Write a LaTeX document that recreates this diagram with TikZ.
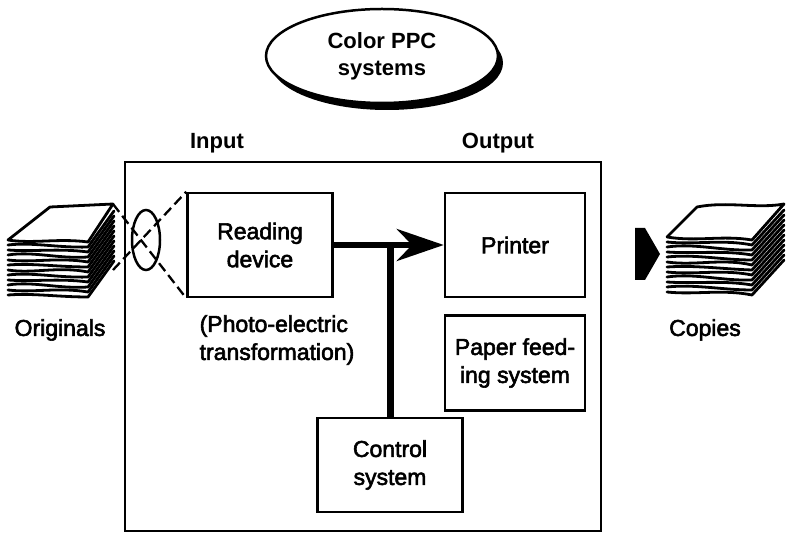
\documentclass[tikz,border=0pt]{standalone}
\usepackage{fontspec}
\setmainfont{Liberation Sans}
\newfontfamily\labelfont{Liberation Sans}[FakeBold=2.5]
\usetikzlibrary{arrows.meta, positioning, shapes.geometric, shadows}

\begin{document}
\begin{tikzpicture}[
		x=1pt, y=-1pt,
		box/.style={
			draw,
			line width=2.5pt,
			minimum width=145pt,
			minimum height=104pt,
			align=center,
			font=\labelfont\fontsize{23}{28}\selectfont
		},
		label/.style={align=center, font=\labelfont\fontsize{23}{28}\selectfont},
		heading/.style={font=\fontsize{22}{26}\selectfont\bfseries},
		sheet/.style={line width=2.8pt, line join=round, line cap=round},
		beam/.style={line width=2.3pt, dash pattern=on 10pt off 5pt},
		arrow/.style={line width=6pt, -{Stealth[length=47pt, width=32pt]}}
		]
		\useasboundingbox (0,0) rectangle (790,534);
		
		% title
		\node[ellipse, draw, line width=2.5pt, fill=white,
			minimum width=232pt, minimum height=94pt,
			drop shadow={shadow xshift=5pt, shadow yshift=-7pt, fill=black, opacity=1},
			align=center, font=\fontsize{22}{27}\selectfont\bfseries] (title) at (382,56) {Color PPC\\systems};
		
		\node[heading] (input) at (217,143) {Input};
		\node[heading] (output) at (498,143) {Output};
		
		% machine frame
		\draw[line width=2.5pt] (125,162) rectangle (601,531);
		
		\node[box] (reading) at (260,245) {Reading\\device};
		\node[box, minimum width=140pt] (printer) at (515,245) {Printer};
		\node[box, minimum width=140pt, minimum height=95pt, below=16pt of printer] (paper) {Paper feed-\\ing system};
		\node[box, minimum height=94pt] (control) at (390,465) {Control\\system};
		\node[label, align=left] (photo) at (277,340) {(Photo-electric\\transformation)};
		
		\node[label] (originals) at (60,330) {Originals};
		\node[label] (copies) at (705,330) {Copies};
		
		% stack of originals
		\begin{scope}[shift={(8,240)}]
			\draw[sheet, fill=white] (0,0) -- (42,-33) -- (105,-36) -- (80,2) .. controls (50,-2) and (25,4) .. (0,0);
			\foreach \i/\w in {1/3,2/-2,3/4,4/-3,5/2,6/-4,7/3,8/-2,9/4,10/-3,11/2}
				\draw[sheet] (0,5*\i) .. controls (25,5*\i-\w) and (50,5*\i+\w) .. (80,5*\i+2) -- (106,5*\i-34);
		\end{scope}
		\coordinate (origtop) at (113,204);
		\coordinate (origbot) at (113,270);
		
		% stack of copies
		\begin{scope}[shift={(667,237)}]
			\draw[sheet, fill=white] (0,0) -- (30,-30) .. controls (60,-36) and (90,-28) .. (117,-33) -- (85,3) .. controls (55,-2) and (30,5) .. (0,0);
			\foreach \i/\w in {1/-3,2/4,3/-2,4/3,5/-4,6/2,7/-3,8/4,9/-2,10/3,11/-3}
				\draw[sheet] (0,5*\i) .. controls (28,5*\i-\w) and (55,5*\i+\w) .. (85,5*\i+3) -- (117,5*\i-32);
		\end{scope}
		
		% lens and light path
		\node[ellipse, draw, line width=2.5pt, minimum width=28pt, minimum height=60pt] (lens) at (146,240) {};
		\draw[beam] (origtop) -- (reading.south west);
		\draw[beam] (origbot) -- (reading.north west);
		
		% signal paths
		\draw[arrow] (reading) -- (printer);
		\draw[line width=7pt] (control.north) -- (control.north |- reading.east);
		
		% output arrow
		\fill (635,228) -- (645,228) -- (660,254) -- (645,280) -- (635,280) -- cycle;
		
	\end{tikzpicture}
\end{document}
